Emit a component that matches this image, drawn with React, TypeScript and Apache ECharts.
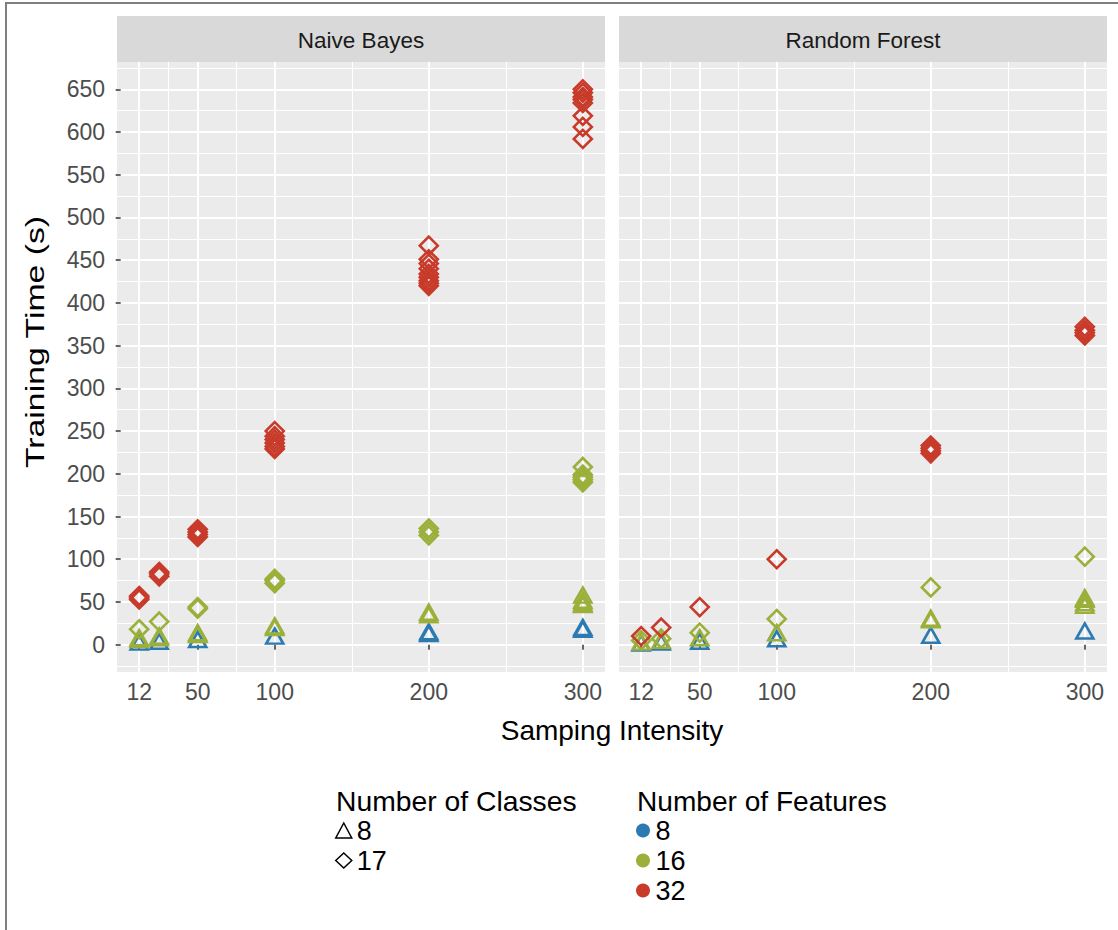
import React, { useEffect, useRef } from "react";
import * as echarts from "echarts";

// ---------- data ----------
const samplingIntensity = [12, 25, 50, 100, 200, 300];
const xTickValues = [12, 50, 100, 200, 300];
const xMinorValues = [31, 75, 150, 250];
const yTickValues = [0, 50, 100, 150, 200, 250, 300, 350, 400, 450, 500, 550, 600, 650];
const yMinorValues = [-25, 25, 75, 125, 175, 225, 275, 325, 375, 425, 475, 525, 575, 625, 675];

const panels = ["Naive Bayes", "Random Forest"];
const classLevels = ["8", "17"];
const featureLevels = ["8", "16", "32"];
const featureColors = ["#2B7BB2", "#9AB03A", "#C83B2B"];

// Training time (s): one list of replicate values per sampling intensity
// Naive Bayes
const nbF8C8 = [[3], [4], [6], [10], [13, 15], [18, 20]];
const nbF16C8 = [[6, 8], [8, 10], [12, 14], [20, 22], [35, 38], [47, 49, 52, 58]];
const nbF16C17 = [[18], [27], [42, 44], [72, 75, 77], [128, 132, 136], [190, 193, 196, 199, 208]];
const nbF32C17 = [
  [53, 55, 57],
  [80, 83, 85],
  [126, 129, 132, 135],
  [229, 232, 236, 240, 244, 250],
  [420, 423, 426, 430, 434, 440, 446, 451, 467],
  [592, 606, 619, 634, 638, 641, 646, 650],
];
// Random Forest
const rfF8C8 = [[2], [3], [4], [7], [11], [16]];
const rfF16C8 = [[3], [5], [8], [14], [29, 31], [46, 49, 53, 55]];
const rfF16C17 = [[5], [7], [14], [30], [67], [103]];
const rfF32C17 = [[10], [20], [44], [100], [224, 227, 230, 233], [362, 365, 368, 372]];

const seriesSpecs = [
  { panel: 0, features: 0, classes: 0, values: nbF8C8 },
  { panel: 0, features: 1, classes: 0, values: nbF16C8 },
  { panel: 0, features: 1, classes: 1, values: nbF16C17 },
  { panel: 0, features: 2, classes: 1, values: nbF32C17 },
  { panel: 1, features: 0, classes: 0, values: rfF8C8 },
  { panel: 1, features: 1, classes: 0, values: rfF16C8 },
  { panel: 1, features: 1, classes: 1, values: rfF16C17 },
  { panel: 1, features: 2, classes: 1, values: rfF32C17 },
];

// ---------- layout ----------
const FONT = "'Liberation Sans', Arial, sans-serif";
const X_MIN = -2.4;
const X_MAX = 314.4;
const Y_MIN = -32;
const Y_MAX = 682;
const gridRects = [
  { left: 117, top: 62, width: 488, height: 610 },
  { left: 619, top: 62, width: 488, height: 610 },
];

function toPoints(values: number[][]) {
  const pts: number[][] = [];
  values.forEach((ys, i) => ys.forEach((y) => pts.push([samplingIntensity[i], y])));
  return pts;
}

export default function App() {
  const ref = useRef<HTMLDivElement>(null);

  useEffect(() => {
    if (!ref.current) return;
    const chart = echarts.init(ref.current, undefined, { renderer: "svg" });

    const grid = gridRects.map((r) => ({
      ...r,
      show: true,
      backgroundColor: "#EBEBEB",
      borderWidth: 0,
      containLabel: false,
    }));

    const xAxis: any[] = [];
    const yAxis: any[] = [];
    // major axes (indices 0,1)
    [0, 1].forEach((g) => {
      xAxis.push({
        gridIndex: g,
        type: "value",
        min: X_MIN,
        max: X_MAX,
        axisLine: { show: false },
        axisTick: {
          show: true,
          length: 5,
          customValues: xTickValues,
          lineStyle: { color: "#333333", width: 1.5 },
        },
        axisLabel: {
          customValues: xTickValues,
          color: "#4D4D4D",
          fontSize: 23,
          fontFamily: FONT,
          margin: 8,
        },
        splitLine: { show: true, lineStyle: { color: "#FFFFFF", width: 2 } },
      });
      yAxis.push({
        gridIndex: g,
        type: "value",
        min: Y_MIN,
        max: Y_MAX,
        axisLine: { show: false },
        axisTick: {
          show: g === 0,
          length: 5,
          customValues: yTickValues,
          lineStyle: { color: "#333333", width: 1.5 },
        },
        axisLabel: {
          show: g === 0,
          customValues: yTickValues,
          color: "#4D4D4D",
          fontSize: 23,
          fontFamily: FONT,
          margin: 12,
        },
        splitLine: { show: true, lineStyle: { color: "#FFFFFF", width: 2 } },
      });
    });
    // minor gridline axes (indices 2,3)
    [0, 1].forEach((g) => {
      xAxis.push({
        gridIndex: g,
        type: "value",
        min: X_MIN,
        max: X_MAX,
        position: "bottom",
        axisLine: { show: false },
        axisTick: { show: false, customValues: xMinorValues },
        axisLabel: { show: false, customValues: xMinorValues },
        splitLine: { show: true, lineStyle: { color: "#FFFFFF", width: 1 } },
      });
      yAxis.push({
        gridIndex: g,
        type: "value",
        min: Y_MIN,
        max: Y_MAX,
        position: "left",
        axisLine: { show: false },
        axisTick: { show: false, customValues: yMinorValues },
        axisLabel: { show: false, customValues: yMinorValues },
        splitLine: { show: true, lineStyle: { color: "#FFFFFF", width: 1 } },
      });
    });

    const series: any[] = seriesSpecs.map((s) => ({
      name: `${panels[s.panel]} · ${featureLevels[s.features]} features · ${classLevels[s.classes]} classes`,
      type: "scatter",
      xAxisIndex: s.panel,
      yAxisIndex: s.panel,
      symbol: s.classes === 0 ? "triangle" : "diamond",
      symbolSize: s.classes === 0 ? [17, 15] : [18, 18],
      itemStyle: {
        color: "rgba(0,0,0,0)",
        borderColor: featureColors[s.features],
        borderWidth: 2.6,
        opacity: 1,
      },
      z: 3,
      data: toPoints(s.values),
    }));

    // legend-only series
    classLevels.forEach((c, i) => {
      series.push({
        name: `Classes: ${c}`,
        type: "scatter",
        xAxisIndex: 0,
        yAxisIndex: 0,
        symbol: i === 0 ? "triangle" : "diamond",
        itemStyle: { color: "rgba(0,0,0,0)", borderColor: "#000", borderWidth: 1.5, opacity: 1 },
        data: [],
      });
    });
    featureLevels.forEach((f, i) => {
      series.push({
        name: `Features: ${f}`,
        type: "scatter",
        xAxisIndex: 0,
        yAxisIndex: 0,
        symbol: "circle",
        itemStyle: { color: featureColors[i], opacity: 1 },
        data: [],
      });
    });

    const legendText = { fontSize: 27, color: "#000000", fontFamily: FONT, lineHeight: 27 };
    const legend = [
      {
        orient: "vertical",
        left: 335,
        top: 817,
        padding: 0,
        itemGap: 3,
        itemWidth: 16,
        itemHeight: 15,
        selectedMode: false,
        textStyle: legendText,
        formatter: (n: string) => n.split(": ")[1],
        data: classLevels.map((c, i) => ({
          name: `Classes: ${c}`,
          icon: i === 0 ? "triangle" : "diamond",
          itemStyle: { color: "rgba(0,0,0,0)", borderColor: "#000000", borderWidth: 1.5, opacity: 1 },
        })),
      },
      {
        orient: "vertical",
        left: 636,
        top: 817,
        padding: 0,
        itemGap: 3,
        itemWidth: 15,
        itemHeight: 14,
        selectedMode: false,
        textStyle: legendText,
        formatter: (n: string) => n.split(": ")[1],
        data: featureLevels.map((f, i) => ({
          name: `Features: ${f}`,
          icon: "circle",
          itemStyle: { color: featureColors[i], borderWidth: 0, opacity: 1 },
        })),
      },
    ];

    const graphic: any[] = [
      {
        type: "rect",
        shape: { x: 6, y: 3, width: 1300, height: 1100 },
        style: { fill: "none", stroke: "#7F7F7F", lineWidth: 2 },
        silent: true,
      },
    ];
    gridRects.forEach((r, i) => {
      graphic.push({
        type: "rect",
        shape: { x: r.left, y: 16, width: r.width, height: 46 },
        style: { fill: "#D9D9D9" },
        silent: true,
      });
      graphic.push({
        type: "text",
        x: r.left + r.width / 2,
        y: 40,
        style: {
          text: panels[i],
          fill: "#1A1A1A",
          font: `22.5px ${FONT}`,
          textAlign: "center",
          textVerticalAlign: "middle",
        },
        silent: true,
      });
    });
    graphic.push(
      {
        type: "text",
        x: 612,
        y: 730,
        style: {
          text: "Samping Intensity",
          fill: "#000000",
          font: `28px ${FONT}`,
          textAlign: "center",
          textVerticalAlign: "middle",
        },
      },
      {
        type: "text",
        x: 35,
        y: 342,
        rotation: Math.PI / 2,
        scaleX: 1.3,
        style: {
          text: "Training Time (s)",
          fill: "#000000",
          font: `26px ${FONT}`,
          textAlign: "center",
          textVerticalAlign: "middle",
        },
      },
      {
        type: "text",
        x: 336,
        y: 801,
        style: {
          text: "Number of Classes",
          fill: "#000000",
          font: `28.3px ${FONT}`,
          textAlign: "left",
          textVerticalAlign: "middle",
        },
      },
      {
        type: "text",
        x: 637,
        y: 801,
        style: {
          text: "Number of Features",
          fill: "#000000",
          font: `28.1px ${FONT}`,
          textAlign: "left",
          textVerticalAlign: "middle",
        },
      }
    );

    chart.setOption({
      animation: false,
      backgroundColor: "#FFFFFF",
      grid,
      xAxis,
      yAxis,
      legend,
      series,
      graphic,
    });

    return () => chart.dispose();
  }, []);

  return (
    <div
      ref={ref}
      style={{ position: "fixed", left: 0, top: 0, width: 1118, height: 930 }}
    />
  );
}
